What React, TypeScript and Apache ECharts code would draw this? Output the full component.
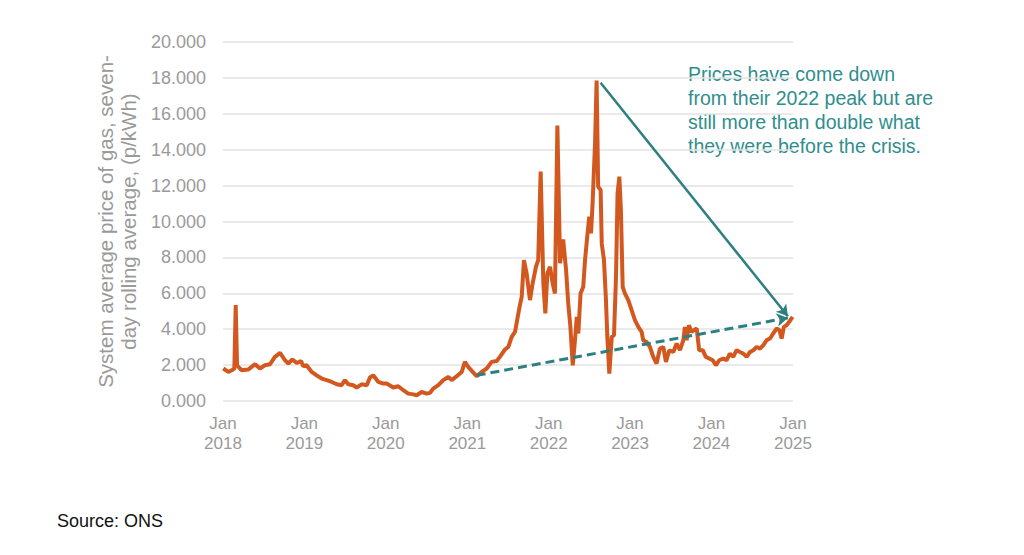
import React, { useEffect, useRef } from "react";
import * as echarts from "echarts";

const dates: string[] = [
  "2018-01-02", "2018-01-25", "2018-02-09", "2018-02-21", "2018-02-27", "2018-03-05", "2018-03-18", "2018-03-26",
  "2018-04-24", "2018-05-25", "2018-06-16", "2018-07-08", "2018-07-31", "2018-08-22", "2018-09-14", "2018-10-06",
  "2018-10-21", "2018-11-08", "2018-11-28", "2018-12-17", "2018-12-27", "2019-01-11", "2019-02-03", "2019-02-25",
  "2019-03-20", "2019-04-11", "2019-05-04", "2019-05-26", "2019-06-17", "2019-07-02", "2019-07-17", "2019-08-08",
  "2019-08-24", "2019-09-15", "2019-10-08", "2019-10-22", "2019-11-06", "2019-11-29", "2019-12-21", "2020-01-05",
  "2020-02-04", "2020-02-26", "2020-03-20", "2020-04-11", "2020-05-04", "2020-05-19", "2020-06-10", "2020-07-03",
  "2020-07-17", "2020-08-01", "2020-08-24", "2020-09-15", "2020-10-08", "2020-10-23", "2020-11-14", "2020-12-07",
  "2020-12-21", "2021-01-05", "2021-01-25", "2021-02-12", "2021-03-06", "2021-03-29", "2021-04-20", "2021-05-13",
  "2021-05-27", "2021-06-19", "2021-07-04", "2021-07-19", "2021-08-03", "2021-08-18", "2021-08-25", "2021-09-02",
  "2021-09-12", "2021-09-24", "2021-10-09", "2021-10-21", "2021-11-05", "2021-11-15", "2021-11-26", "2021-12-08",
  "2021-12-17", "2021-12-26", "2022-01-07", "2022-01-19", "2022-01-29", "2022-02-09", "2022-02-21", "2022-03-07",
  "2022-03-20", "2022-03-30", "2022-04-08", "2022-04-19", "2022-04-29", "2022-05-07", "2022-05-14", "2022-05-24",
  "2022-06-05", "2022-06-13", "2022-06-23", "2022-07-02", "2022-07-10", "2022-07-17", "2022-07-28", "2022-08-04",
  "2022-08-11", "2022-08-22", "2022-08-27", "2022-09-06", "2022-09-15", "2022-09-21", "2022-09-30", "2022-10-11",
  "2022-10-21", "2022-10-30", "2022-11-06", "2022-11-14", "2022-11-21", "2022-11-29", "2022-12-09", "2022-12-24",
  "2023-01-08", "2023-01-23", "2023-02-07", "2023-02-22", "2023-03-01", "2023-03-16", "2023-03-31", "2023-04-15",
  "2023-04-30", "2023-05-15", "2023-05-30", "2023-06-11", "2023-06-26", "2023-07-14", "2023-07-29", "2023-08-13",
  "2023-08-28", "2023-09-04", "2023-09-12", "2023-09-22", "2023-10-04", "2023-10-15", "2023-10-27", "2023-11-07",
  "2023-11-23", "2023-12-07", "2023-12-22", "2024-01-07", "2024-01-21", "2024-02-05", "2024-02-23", "2024-03-09",
  "2024-03-24", "2024-04-08", "2024-04-23", "2024-05-08", "2024-05-23", "2024-06-07", "2024-06-22", "2024-07-07",
  "2024-07-22", "2024-08-06", "2024-08-21", "2024-09-05", "2024-09-20", "2024-10-04", "2024-10-20", "2024-11-01",
  "2024-11-11", "2024-11-21", "2024-12-03", "2024-12-15", "2024-12-30",
];

const prices: number[] = [
  1.81, 1.62, 1.71, 1.81, 5.34, 1.99, 1.81, 1.71,
  1.75, 2.05, 1.81, 1.99, 2.05, 2.46, 2.68, 2.27,
  2.09, 2.31, 2.12, 2.23, 1.94, 1.99, 1.62, 1.43,
  1.25, 1.16, 1.06, 0.93, 0.88, 1.16, 0.93, 0.88,
  0.75, 0.93, 0.88, 1.31, 1.43, 1.06, 0.97, 0.97,
  0.75, 0.82, 0.6, 0.41, 0.37, 0.32, 0.5, 0.41,
  0.45, 0.69, 0.88, 1.16, 1.34, 1.16, 1.38, 1.62,
  2.18, 1.9, 1.62, 1.38, 1.62, 1.81, 2.18, 2.23,
  2.46, 2.87, 3.01, 3.57, 3.85, 4.88, 5.34, 5.8,
  7.85, 7.11, 5.62, 6.55, 7.48, 7.85, 12.78, 6.55,
  4.88, 7.11, 7.48, 6.55, 5.99, 15.35, 7.67, 9.0,
  7.3, 5.4, 4.2, 1.99, 3.39, 4.69, 3.76, 5.99,
  6.36, 7.85, 9.15, 10.27, 9.34, 11.02, 14.36, 17.85,
  11.94, 11.76, 8.78, 7.85, 5.62, 3.57, 1.53, 3.57,
  3.67, 6.92, 11.57, 12.5, 10.64, 6.36, 5.99, 5.62,
  5.06, 4.5, 4.13, 3.85, 3.39, 3.29, 3.01, 2.46,
  2.09, 2.92, 3.01, 2.18, 2.83, 2.73, 3.2, 2.83,
  3.39, 4.13, 3.39, 4.22, 3.85, 3.95, 4.04, 2.83,
  2.83, 2.46, 2.37, 2.27, 1.99, 2.27, 2.37, 2.27,
  2.64, 2.46, 2.83, 2.73, 2.64, 2.46, 2.73, 2.83,
  3.01, 2.92, 3.11, 3.39, 3.48, 3.76, 4.04, 3.95,
  3.48, 4.13, 4.22, 4.41, 4.69,
];

// annotation arrows: [startDate, startValue, endDate, endValue]
const peakArrow: [string, number, string, number] = ["2022-08-22", 17.73, "2024-12-09", 4.72];
const crisisArrow: [string, number, string, number] = ["2021-02-12", 1.43, "2024-12-09", 4.63];

const annotationLines = [
  "Prices have come down",
  "from their 2022 peak but are",
  "still more than double what",
  "they were before the crisis.",
];
const sourceText = "Source: ONS";
const yAxisTitle = "System average price of gas, seven-\nday rolling average, (p/kWh)";

const LINE_COLOR = "#D3581F";
const TEAL = "#2E7F80";
const TEXT_TEAL = "#2F8E8C";
const GREY = "#9a9a9a";
const FONT = "'Liberation Sans', Arial, sans-serif";

export default function App() {
  const ref = useRef<HTMLDivElement>(null);
  useEffect(() => {
    if (!ref.current) return;
    const chart = echarts.init(ref.current, undefined, { renderer: "svg" });
    const seriesData = dates.map((d, i) => [d, prices[i]]);
    chart.setOption({
      animation: false,
      backgroundColor: "#ffffff",
      textStyle: { fontFamily: FONT },
      grid: { left: 223, right: 231, top: 42, bottom: 154, containLabel: false },
      xAxis: {
        type: "time",
        min: "2018-01-01",
        max: "2025-01-01",
        splitNumber: 7,
        minInterval: 365 * 24 * 3600 * 1000,
        axisLine: { show: false },
        axisTick: { show: false },
        splitLine: { show: false },
        axisLabel: {
          color: GREY,
          fontSize: 17,
          lineHeight: 20,
          fontFamily: FONT,
          margin: 12,
          showMinLabel: true,
          showMaxLabel: true,
          formatter: (val: number) => "Jan\n" + new Date(val).getFullYear(),
        },
      },
      yAxis: {
        type: "value",
        min: 0,
        max: 20,
        interval: 2,
        name: yAxisTitle,
        nameLocation: "middle",
        nameGap: 78,
        nameTextStyle: { color: GREY, fontSize: 20.5, lineHeight: 23, fontFamily: FONT },
        axisLine: { show: false },
        axisTick: { show: false },
        splitLine: { lineStyle: { color: "#e3e3e3", width: 1.5 } },
        axisLabel: {
          color: GREY,
          fontSize: 18,
          fontFamily: FONT,
          margin: 17,
          formatter: (v: number) => v.toFixed(3),
        },
      },
      series: [
        {
          type: "line",
          data: seriesData,
          showSymbol: false,
          symbol: "none",
          lineStyle: { color: LINE_COLOR, width: 4 },
          z: 2,
          markLine: {
            silent: true,
            symbol: ["none", "arrow"],
            symbolSize: [10, 11],
            label: { show: false },
            emphasis: { disabled: true },
            data: [
              [
                { coord: [peakArrow[0], peakArrow[1]], lineStyle: { color: TEAL, width: 2.5, type: "solid" } },
                { coord: [peakArrow[2], peakArrow[3]] },
              ],
              [
                { coord: [crisisArrow[0], crisisArrow[1]], lineStyle: { color: TEAL, width: 3, type: [9, 5] } },
                { coord: [crisisArrow[2], crisisArrow[3]] },
              ],
            ],
          },
        },
      ],
      graphic: [
        {
          type: "text",
          left: 688,
          top: 62,
          style: {
            text: annotationLines.join("\n"),
            fill: TEXT_TEAL,
            font: `19.5px ${FONT}`,
            lineHeight: 24,
          },
        },
        {
          type: "text",
          left: 57,
          top: 512,
          style: {
            text: sourceText,
            fill: "#111111",
            font: `18px ${FONT}`,
          },
        },
      ],
    });
    return () => chart.dispose();
  }, []);
  return (
    <div
      ref={ref}
      style={{ position: "fixed", left: 0, top: 0, width: 1024, height: 555, background: "#fff" }}
    />
  );
}
